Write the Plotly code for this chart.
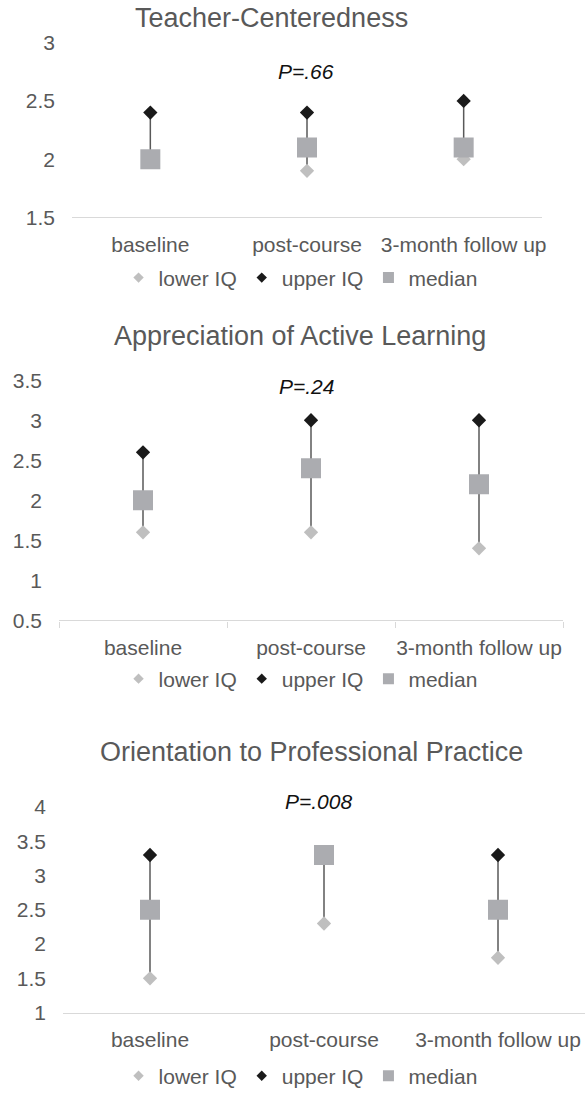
import plotly.graph_objects as go

W, H = 587, 1097

categories = ["baseline", "post-course", "3-month follow up"]

tc_lower = [2.0, 1.9, 2.0]
tc_upper = [2.4, 2.4, 2.5]
tc_median = [2.0, 2.1, 2.1]

aal_lower = [1.6, 1.6, 1.4]
aal_upper = [2.6, 3.0, 3.0]
aal_median = [2.0, 2.4, 2.2]

opp_lower = [1.5, 2.3, 1.8]
opp_upper = [3.3, 3.3, 3.3]
opp_median = [2.5, 3.3, 2.5]

titles = ["Teacher-Centeredness", "Appreciation of Active Learning",
          "Orientation to Professional Practice"]
p_labels = ["P=.66", "P=.24", "P=.008"]
y_ranges = [[1.5, 3], [0.5, 3.5], [1, 4]]

panels = [
    (tc_lower, tc_upper, tc_median),
    (aal_lower, aal_upper, aal_median),
    (opp_lower, opp_upper, opp_median),
]

# layout geometry in pixels
plot_x = [(72, 542), (59, 563), (63, 585)]
plot_y = [(43, 219), (383, 625), (813, 1020)]
title_pos = [(271, 18), (300, 338), (311, 758)]
p_pos = [(306, 72), (306, 389), (318, 807)]
legend_y = [280, 684, 1084]

FONT = "Liberation Sans, Arial, sans-serif"
GRAY_TXT = "#595959"
C_LOWER = "#BFBFBF"
C_UPPER = "#1A1A1A"
C_MED = "#ABACB0"
C_LINE = "#595959"


def px_x(v):
    return v / W


def px_y(v):
    return 1 - v / H


fig = go.Figure()
annotations = []
layout = {}

for i, (lower, upper, median) in enumerate(panels):
    n = "" if i == 0 else str(i + 1)
    xa, ya = "x" + n, "y" + n
    leg = "legend" + n
    span = [u - l for u, l in zip(upper, lower)]

    fig.add_trace(go.Scatter(
        x=categories, y=upper, mode="markers", name="upper IQ",
        marker=dict(symbol="diamond", size=11, color=C_UPPER),
        error_y=dict(type="data", symmetric=False, array=[0] * len(upper),
                     arrayminus=span, color=C_LINE, thickness=1.5, width=0),
        xaxis=xa, yaxis=ya, showlegend=False, legend=leg))
    fig.add_trace(go.Scatter(
        x=categories, y=lower, mode="markers", name="lower IQ",
        marker=dict(symbol="diamond", size=11, color=C_LOWER),
        xaxis=xa, yaxis=ya, showlegend=False, legend=leg))
    fig.add_trace(go.Scatter(
        x=categories, y=median, mode="markers", name="median",
        marker=dict(symbol="square", size=20, color=C_MED),
        xaxis=xa, yaxis=ya, showlegend=False, legend=leg))

    # legend entries
    for nm, sym, sz, col in [("lower IQ", "diamond", 8, C_LOWER),
                             ("upper IQ", "diamond", 8, C_UPPER),
                             ("median", "square", 11, C_MED)]:
        fig.add_trace(go.Scatter(
            x=[None], y=[None], mode="markers", name=nm,
            marker=dict(symbol=sym, size=sz, color=col),
            xaxis=xa, yaxis=ya, showlegend=True, legend=leg))

    x0, x1 = plot_x[i]
    y0, y1 = plot_y[i]
    xaxis = dict(
        domain=[px_x(x0), px_x(x1)], anchor=ya, type="category",
        range=[-0.5, len(categories) - 0.5],
        showline=True, linecolor="#D9D9D9", linewidth=1.2,
        showgrid=False, zeroline=False, automargin=False, tickangle=0,
        tickfont=dict(family=FONT, size=21, color=GRAY_TXT),
        ticks="", ticklabelstandoff=8, fixedrange=True,
    )
    if i == 1:
        xaxis.update(ticks="outside", tickson="boundaries", ticklen=6,
                     tickcolor="#D9D9D9", tickwidth=1.2)
    yaxis = dict(
        domain=[px_y(y1), px_y(y0)], anchor=xa, range=y_ranges[i], dtick=0.5,
        showgrid=False, zeroline=False, showline=False, ticks="",
        automargin=False,
        tickfont=dict(family=FONT, size=21, color=GRAY_TXT),
        ticklabelstandoff=16, fixedrange=True,
    )
    layout["xaxis" + n] = xaxis
    layout["yaxis" + n] = yaxis
    layout[leg] = dict(
        orientation="h", x=0.512, xanchor="center",
        y=px_y(legend_y[i]), yanchor="middle",
        font=dict(family=FONT, size=21, color=GRAY_TXT),
        bgcolor="rgba(0,0,0,0)", itemwidth=30,
    )

    tx, ty = title_pos[i]
    annotations.append(dict(
        text=titles[i], xref="paper", yref="paper", x=px_x(tx), y=px_y(ty),
        xanchor="center", yanchor="middle", showarrow=False,
        font=dict(family=FONT, size=27, color=GRAY_TXT)))
    ptx, pty = p_pos[i]
    annotations.append(dict(
        text="<i>" + p_labels[i] + "</i>", xref="paper", yref="paper",
        x=px_x(ptx), y=px_y(pty), xanchor="center", yanchor="middle",
        showarrow=False, font=dict(family=FONT, size=21, color="#111111")))

fig.update_layout(
    width=W, height=H, autosize=False,
    margin=dict(l=0, r=0, t=0, b=0),
    paper_bgcolor="white", plot_bgcolor="white",
    annotations=annotations, **layout,
)

fig.write_html(
    "out.html",
    config={"displayModeBar": False, "responsive": False},
    post_script="document.body.style.margin='0';document.body.style.overflow='hidden';",
)
